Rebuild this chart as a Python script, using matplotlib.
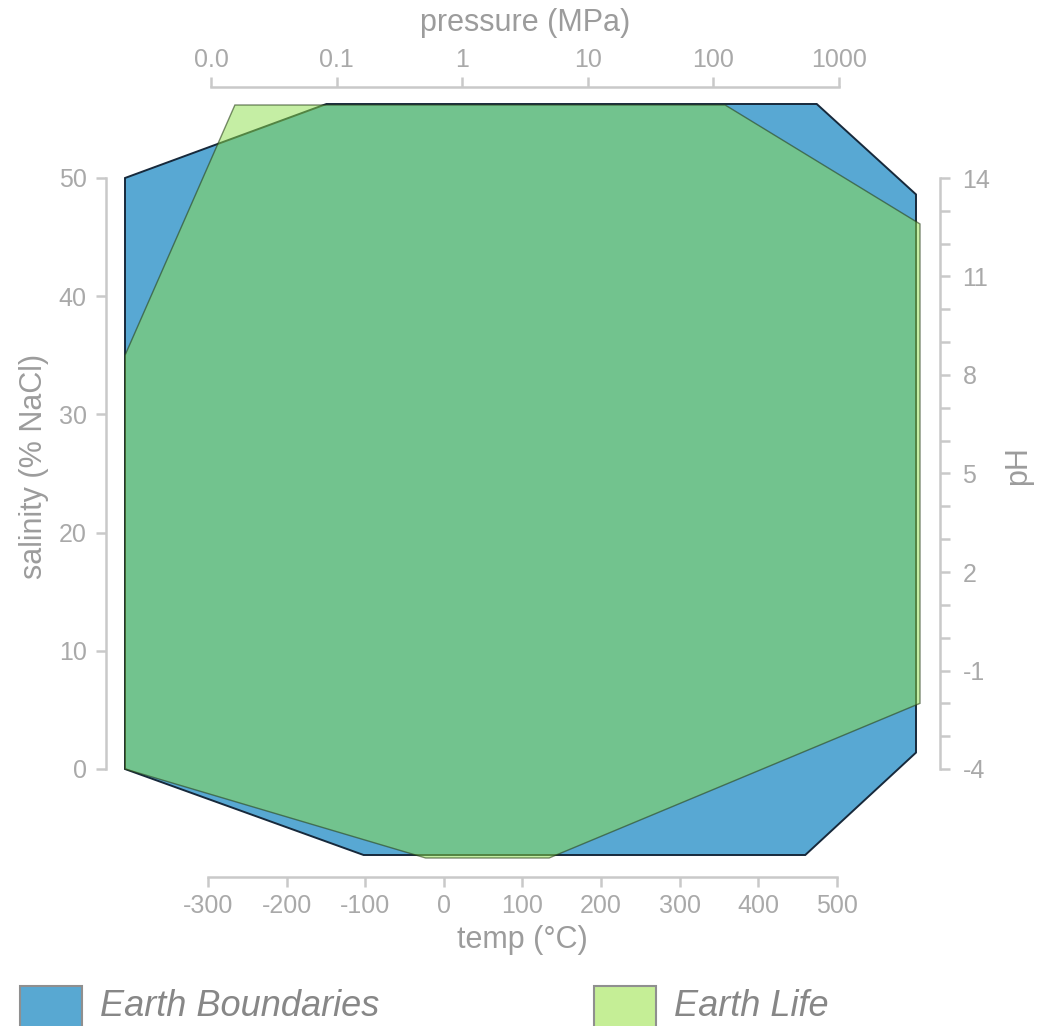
import matplotlib
matplotlib.use('Agg')
import matplotlib.pyplot as plt
from matplotlib.patches import Polygon, Rectangle
import numpy as np

plt.rcParams['font.family'] = ['Liberation Sans', 'DejaVu Sans']

# ---------------- data ----------------
series_names = ['Earth Boundaries', 'Earth Life']
salinity_range = [[0, 50], [0, 35]]            # % NaCl  (left axis)
pressure_range = [[0.083, 665], [0.0155, 124]]  # MPa     (top axis)
ph_range = [[-3.5, 13.5], [-2.0, 12.6]]         # pH      (right axis)
temp_range = [[-102, 460], [-23, 134]]          # deg C   (bottom axis)

temp_ticks = [-300, -200, -100, 0, 100, 200, 300, 400, 500]
sal_ticks = [0, 10, 20, 30, 40, 50]
pressure_ticks = [0.01, 0.1, 1, 10, 100, 1000]
pressure_labels = ['0.0', '0.1', '1', '10', '100', '1000']
ph_ticks = list(range(-4, 15))
ph_labels = [str(v) if (v + 4) % 3 == 0 else '' for v in ph_ticks]

# ---------------- style ----------------
W, H = 1038, 1026
face_colors = [(0.345, 0.659, 0.827, 1.0), (0.553, 0.875, 0.29, 0.5)]
edge_colors = [(0.09, 0.16, 0.23, 1.0), (0.16, 0.25, 0.10, 0.6)]
edge_widths = [1.4, 1.0]
legend_colors = ['#58a8d2', '#c5ee96']
# polygon frame edges in pixels (left, right, top, bottom)
frames = [(125, 916, 104, 855), (125, 920, 105, 858)]
spine_c = '#c9c9c9'
tick_c = '#a9a9a9'
label_c = '#9c9c9c'
TICK_FS = 18
LAB_FS = 22

def fx(px):
    return px / W

def fy(py):
    return 1 - py / H

fig = plt.figure(figsize=(W / 100, H / 100), dpi=100)

y_top_px, y_bot_px = 178, 769
ax = fig.add_axes([fx(208), fy(y_bot_px), (836.7 - 208) / W, (y_bot_px - y_top_px) / H])
ax.set_xlim(-300, 500)
ax.set_ylim(0, 50)
ax.patch.set_visible(False)

ax_top = fig.add_axes([fx(211), fy(y_bot_px), 628 / W, (y_bot_px - y_top_px) / H])
ax_top.set_xscale('log')
ax_top.set_xlim(0.01, 1000)
ax_top.patch.set_visible(False)

ax_right = fig.add_axes([fx(208), fy(y_bot_px), (836.7 - 208) / W, (y_bot_px - y_top_px) / H])
ax_right.set_ylim(-4, 14)
ax_right.patch.set_visible(False)

px2pt = 0.72
# main axes: left + bottom
for s in ['top', 'right']:
    ax.spines[s].set_visible(False)
ax.spines['left'].set_position(('outward', (208 - 105.5) * px2pt))
ax.spines['bottom'].set_position(('outward', (876.5 - 769) * px2pt))
for s in ['left', 'bottom']:
    ax.spines[s].set_color(spine_c)
    ax.spines[s].set_linewidth(1.8)
ax.set_xticks(temp_ticks)
ax.set_xticklabels([str(t) for t in temp_ticks])
ax.set_yticks(sal_ticks)
ax.set_yticklabels([str(t) for t in sal_ticks])
ax.tick_params(axis='both', direction='out', length=7.5, width=1.8, color=spine_c,
               labelcolor=tick_c, labelsize=TICK_FS)
ax.tick_params(axis='x', pad=5)
ax.tick_params(axis='y', pad=6)

# top axes
for s in ['left', 'right', 'bottom']:
    ax_top.spines[s].set_visible(False)
ax_top.spines['top'].set_position(('outward', (178 - 86.7) * px2pt))
ax_top.spines['top'].set_color(spine_c)
ax_top.spines['top'].set_linewidth(1.8)
ax_top.xaxis.tick_top()
ax_top.set_xticks(pressure_ticks)
ax_top.set_xticklabels(pressure_labels)
ax_top.xaxis.set_minor_locator(matplotlib.ticker.NullLocator())
ax_top.set_yticks([])
ax_top.tick_params(axis='x', direction='out', length=7.5, width=1.8, color=spine_c,
                   labelcolor=tick_c, labelsize=TICK_FS, pad=3)

# right axes
for s in ['left', 'top', 'bottom']:
    ax_right.spines[s].set_visible(False)
ax_right.spines['right'].set_position(('outward', (939.5 - 836.7) * px2pt))
ax_right.spines['right'].set_color(spine_c)
ax_right.spines['right'].set_linewidth(1.8)
ax_right.yaxis.tick_right()
ax_right.set_yticks(ph_ticks)
ax_right.set_yticklabels(ph_labels)
ax_right.set_xticks([])
ax_right.tick_params(axis='y', direction='out', length=7.5, width=1.8, color=spine_c,
                     labelcolor=tick_c, labelsize=TICK_FS, pad=9)

# axis labels
ax.set_xlabel('temp (°C)', fontsize=LAB_FS, color=label_c)
ax.xaxis.set_label_coords(fx(522), fy(940), transform=fig.transFigure)
ax.xaxis.label.set_va('center')
ax.set_ylabel('salinity (% NaCl)', fontsize=LAB_FS, color=label_c)
ax.yaxis.set_label_coords(fx(34), fy(466), transform=fig.transFigure)
ax.yaxis.label.set_va('center')
ax_top.xaxis.set_label_position('top')
ax_top.set_xlabel('pressure (MPa)', fontsize=LAB_FS, color=label_c)
ax_top.xaxis.set_label_coords(fx(525), fy(23), transform=fig.transFigure)
ax_top.xaxis.label.set_va('center')
ax_right.yaxis.set_label_position('right')
ax_right.set_ylabel('pH', fontsize=LAB_FS, color=label_c, rotation=90)
ax_right.yaxis.set_label_coords(fx(1018), fy(466), transform=fig.transFigure)
ax_right.yaxis.label.set_va('center')

# ---------------- polygons ----------------
def disp_x_temp(t):
    return ax.transData.transform((t, 0))[0]

def disp_y_sal(s):
    return ax.transData.transform((0, s))[1]

def disp_x_press(p):
    return ax_top.transData.transform((p, 0.5))[0]

def disp_y_ph(v):
    return ax_right.transData.transform((0.5, v))[1]

for i in range(len(series_names)):
    l, r, t, b = frames[i]
    t_d, b_d = H - t, H - b
    verts = [
        (l, disp_y_sal(salinity_range[i][1])),
        (disp_x_press(pressure_range[i][0]), t_d),
        (disp_x_press(pressure_range[i][1]), t_d),
        (r, disp_y_ph(ph_range[i][1])),
        (r, disp_y_ph(ph_range[i][0])),
        (disp_x_temp(temp_range[i][1]), b_d),
        (disp_x_temp(temp_range[i][0]), b_d),
        (l, disp_y_sal(salinity_range[i][0])),
    ]
    data_verts = ax.transData.inverted().transform(np.array(verts))
    poly = Polygon(data_verts, closed=True, facecolor=face_colors[i],
                   edgecolor=edge_colors[i], linewidth=edge_widths[i],
                   clip_on=False, transform=ax.transData, joinstyle='miter')
    ax.add_patch(poly)

# ---------------- legend ----------------
legend_x = [20, 594]
for i, name in enumerate(series_names):
    x0 = legend_x[i]
    rect = Rectangle((fx(x0), fy(1050)), 62 / W, 64 / H, transform=fig.transFigure,
                     facecolor=legend_colors[i], edgecolor='#8f8f8f', linewidth=1.5)
    fig.add_artist(rect)
    fig.text(fx(x0 + 80), fy(1006), name, fontsize=26, style='italic', color='#878787',
             ha='left', va='center')

fig.savefig('out.png', dpi=100)
